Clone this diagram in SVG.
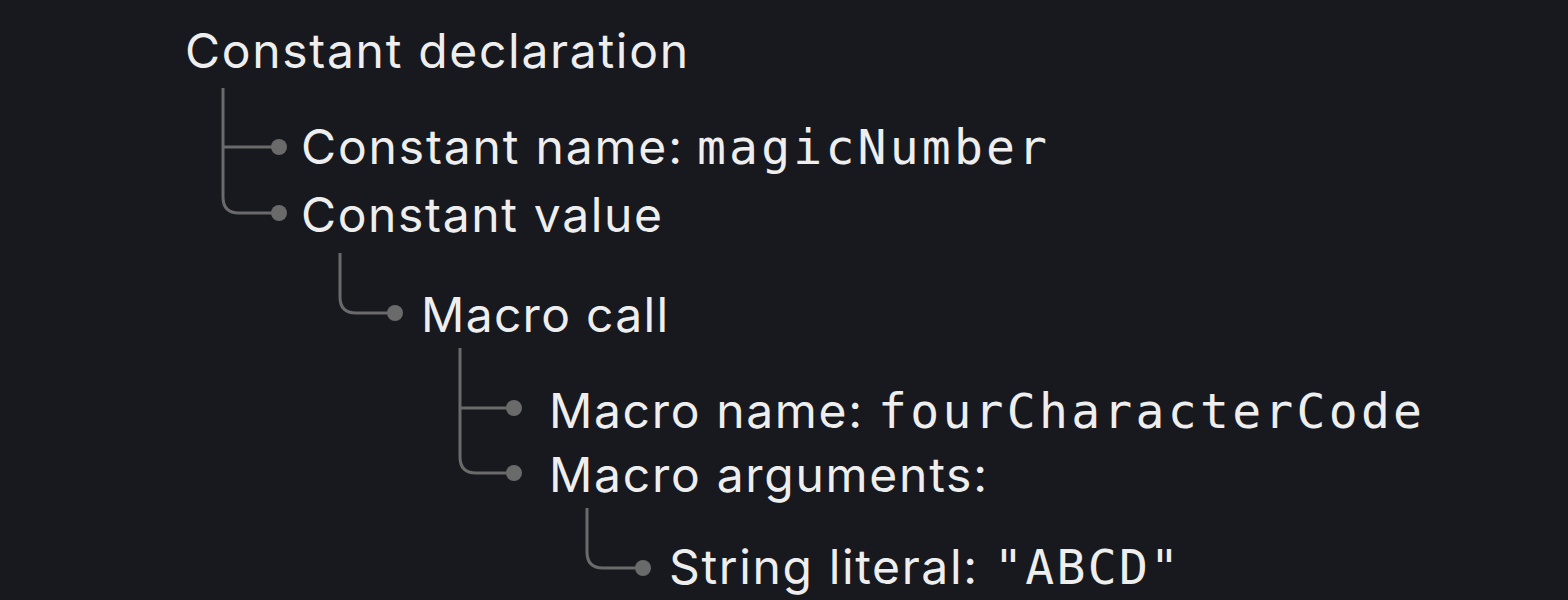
<svg xmlns="http://www.w3.org/2000/svg" width="1568" height="600" viewBox="0 0 1568 600">
<style>
.t{font-family:Inter,"Noto Sans","Liberation Sans",sans-serif;font-size:48px;fill:#eeeeee}
.m{font-family:"DejaVu Sans Mono","Liberation Mono",monospace;font-size:48px;fill:#eeeeee}
.c{fill:none;stroke:#6a6a6a;stroke-width:3}
.d{fill:#6a6a6a}
</style>
<rect width="1568" height="600" fill="#18191e"/>
<g id="connectors">
<path class="c" d="M223 88V147H279M223 147V197Q223 213 239 213H279"/>
<circle class="d" cx="279" cy="147" r="8"/><circle class="d" cx="279" cy="213" r="8"/>
<path class="c" d="M340 253V297Q340 313 356 313H395"/>
<circle class="d" cx="395" cy="313" r="8"/>
<path class="c" d="M460 348V408H514M460 408V457Q460 473 476 473H514"/>
<circle class="d" cx="514" cy="408" r="8"/><circle class="d" cx="514" cy="473" r="8"/>
<path class="c" d="M587 508V552Q587 568 603 568H643"/>
<circle class="d" cx="643" cy="568" r="8"/>
</g>
<g id="n1"><text class="t" x="185" y="68" textLength="503" lengthAdjust="spacing">Constant declaration</text></g>
<g id="n2"><text class="t" x="301" y="164" textLength="381" lengthAdjust="spacing">Constant name:</text><text class="m" x="697" y="164" textLength="350" lengthAdjust="spacing">magicNumber</text></g>
<g id="n3"><text class="t" x="301" y="232" textLength="361" lengthAdjust="spacing">Constant value</text></g>
<g id="n4"><text class="t" x="421" y="332" textLength="247" lengthAdjust="spacing">Macro call</text></g>
<g id="n5"><text class="t" x="549" y="428" textLength="313" lengthAdjust="spacing">Macro name:</text><text class="m" x="878" y="428" textLength="544" lengthAdjust="spacing">fourCharacterCode</text></g>
<g id="n6"><text class="t" x="549" y="492" textLength="438" lengthAdjust="spacing">Macro arguments:</text></g>
<g id="n7"><text class="t" x="669" y="584" textLength="308" lengthAdjust="spacing">String literal:</text><text class="m" x="994" y="584" textLength="185" lengthAdjust="spacing">"ABCD"</text></g>
</svg>
